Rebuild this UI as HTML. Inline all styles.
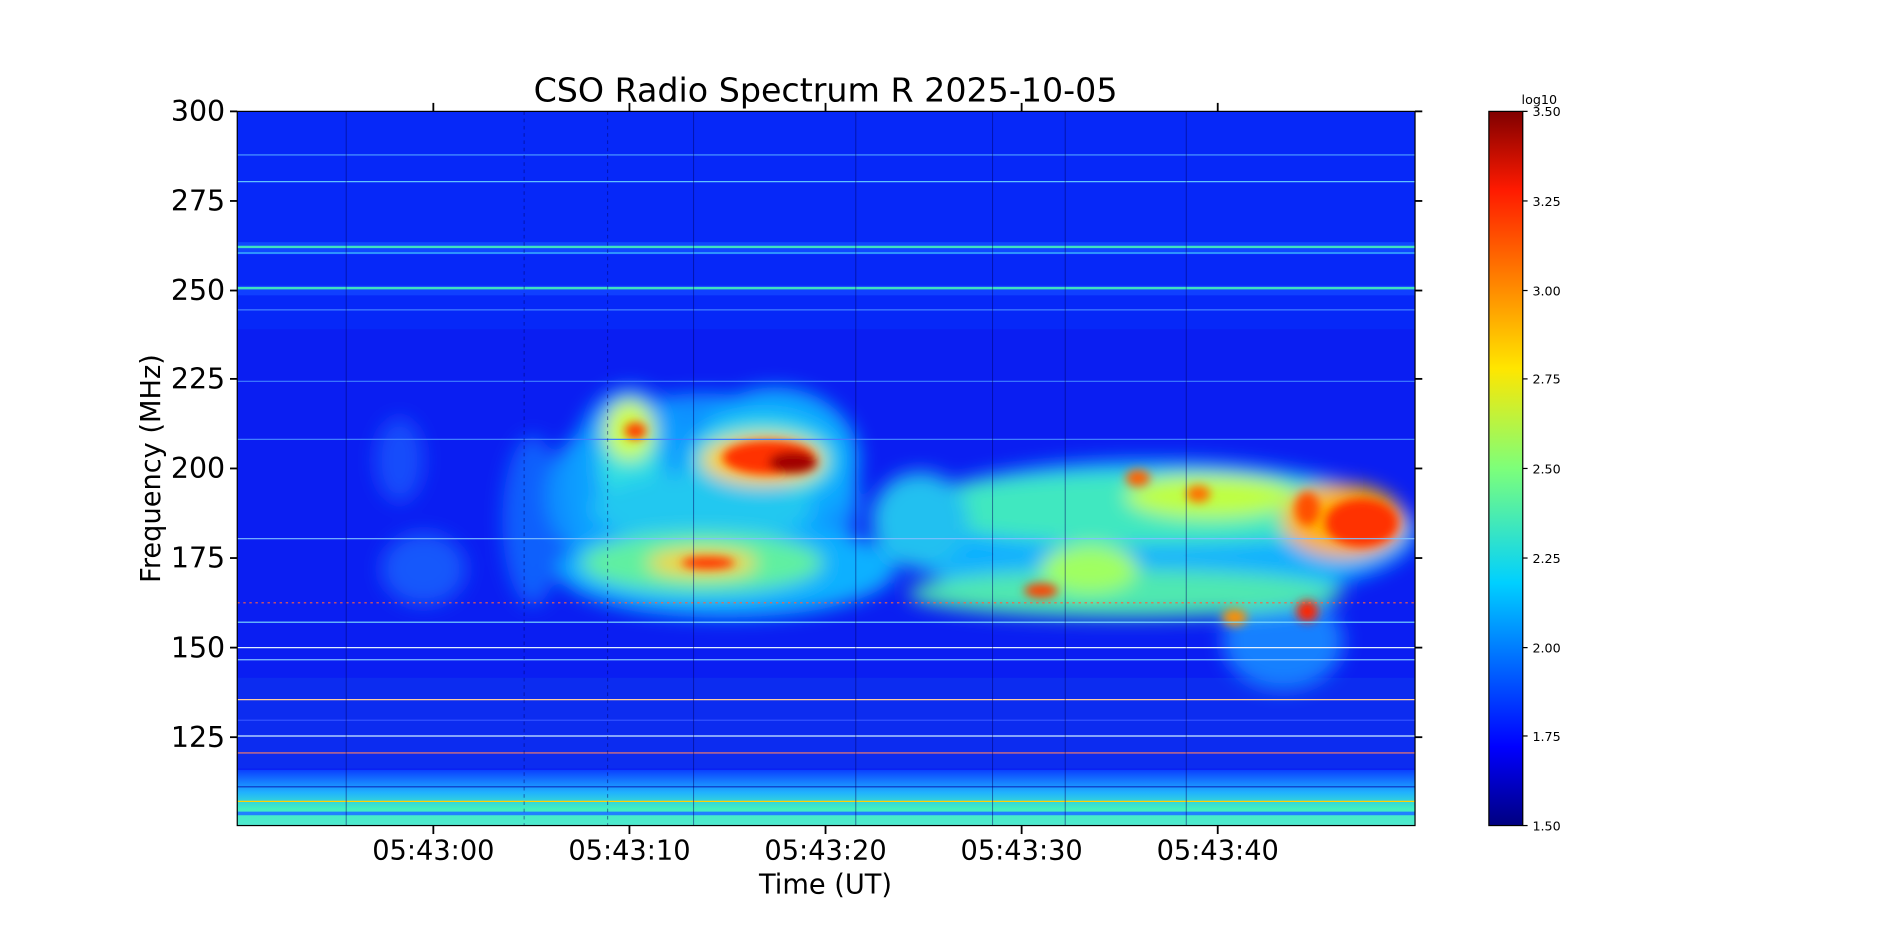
<!DOCTYPE html>
<html><head><meta charset="utf-8"><style>html,body{margin:0;padding:0;background:#fff;overflow:hidden}svg{display:block}text{font-family:"DejaVu Sans","Liberation Sans",sans-serif}</style></head>
<body>
<svg width="1898" height="927" viewBox="0 0 1568 765.8" xmlns="http://www.w3.org/2000/svg">
<defs>
<clipPath id="pc"><rect x="196" y="92" width="973" height="590"/></clipPath>
<filter id="b1" x="-50%" y="-50%" width="200%" height="200%"><feGaussianBlur stdDeviation="8"/></filter>
<filter id="b2" x="-50%" y="-50%" width="200%" height="200%"><feGaussianBlur stdDeviation="4"/></filter>
<linearGradient id="jet" x1="0" y1="1" x2="0" y2="0">
<stop offset="0" stop-color="#000080"/><stop offset="0.11" stop-color="#0000ff"/><stop offset="0.34" stop-color="#00d0ff"/><stop offset="0.5" stop-color="#7dff7a"/><stop offset="0.64" stop-color="#ffe600"/><stop offset="0.89" stop-color="#ff1a00"/><stop offset="1" stop-color="#800000"/></linearGradient>
<linearGradient id="bot" x1="0" y1="0" x2="0" y2="1"><stop offset="0" stop-color="#0a40ff"/><stop offset="0.4" stop-color="#20b0ff"/><stop offset="0.7" stop-color="#40f0c0"/><stop offset="1" stop-color="#50e8d0"/></linearGradient>
</defs>
<g clip-path="url(#pc)">
<rect x="196" y="92" width="973" height="590" fill="#0a1ef2"/>
<rect x="196" y="92" width="973" height="180" fill="#0628f8"/>
<rect x="196" y="200" width="973" height="10" fill="#1048ff"/>
<rect x="196" y="236" width="973" height="8" fill="#1040ff"/>
<rect x="196" y="560" width="973" height="75" fill="#0c2cf0"/>
<rect x="196" y="636" width="973" height="46" fill="url(#bot)"/>
<g filter="url(#b1)">
<ellipse cx="330" cy="380" rx="20" ry="35" fill="#1a60ff" opacity="0.7"/>
<ellipse cx="350" cy="470" rx="35" ry="30" fill="#1a70ff" opacity="0.7"/>
<ellipse cx="440" cy="430" rx="25" ry="70" fill="#1070ff" opacity="0.8"/>
<ellipse cx="580" cy="410" rx="130" ry="85" fill="#1090ff"/>
<ellipse cx="520" cy="400" rx="50" ry="80" fill="#10a0ff"/>
<ellipse cx="640" cy="380" rx="70" ry="60" fill="#10a8ff"/>
<ellipse cx="600" cy="470" rx="140" ry="40" fill="#10b0ff"/>
<ellipse cx="950" cy="440" rx="220" ry="60" fill="#10b0ff"/>
<ellipse cx="1060" cy="530" rx="50" ry="40" fill="#1880ff"/>
<ellipse cx="520" cy="380" rx="25" ry="50" fill="#30e0e0"/>
<ellipse cx="630" cy="380" rx="60" ry="35" fill="#30e0e0"/>
<ellipse cx="580" cy="420" rx="90" ry="30" fill="#20c8f0"/>
<ellipse cx="580" cy="465" rx="100" ry="25" fill="#60f0a0"/>
<ellipse cx="950" cy="420" rx="200" ry="30" fill="#40e8c0"/>
<ellipse cx="930" cy="490" rx="180" ry="20" fill="#50e8b0"/>
<ellipse cx="520" cy="355" rx="20" ry="25" fill="#d0ff40"/>
<ellipse cx="630" cy="380" rx="50" ry="20" fill="#ffd000"/>
<ellipse cx="1110" cy="430" rx="50" ry="30" fill="#ffb000"/>
<ellipse cx="1000" cy="410" rx="70" ry="18" fill="#c0ff40"/>
<ellipse cx="580" cy="465" rx="45" ry="10" fill="#ffd000"/>
<ellipse cx="900" cy="470" rx="40" ry="20" fill="#a0ff60"/>
<ellipse cx="760" cy="430" rx="40" ry="40" fill="#20c0f0"/>
</g>
<g filter="url(#b2)">
<ellipse cx="635" cy="378" rx="38" ry="14" fill="#ff3000"/>
<ellipse cx="655" cy="382" rx="20" ry="9" fill="#a00000"/>
<ellipse cx="1125" cy="432" rx="30" ry="20" fill="#ff3000"/>
<ellipse cx="1080" cy="505" rx="9" ry="9" fill="#ff2000"/>
<ellipse cx="860" cy="488" rx="14" ry="6" fill="#ff4000"/>
<ellipse cx="585" cy="465" rx="22" ry="5" fill="#ff3000"/>
<ellipse cx="525" cy="356" rx="9" ry="7" fill="#ff4000"/>
<ellipse cx="1080" cy="420" rx="10" ry="14" fill="#ff5000"/>
<ellipse cx="940" cy="395" rx="10" ry="7" fill="#ff6000"/>
<ellipse cx="990" cy="408" rx="10" ry="7" fill="#ff7000"/>
<ellipse cx="1020" cy="510" rx="10" ry="7" fill="#ff9000"/>
</g>
<g stroke-width="1">
<line x1="196" y1="128" x2="1169" y2="128" stroke="#50a0ff"/>
<line x1="196" y1="150" x2="1169" y2="150" stroke="#60c0ff"/>
<line x1="196" y1="204" x2="1169" y2="204" stroke="#40e0c0" stroke-width="2"/>
<line x1="196" y1="209" x2="1169" y2="209" stroke="#40c0ff"/>
<line x1="196" y1="238" x2="1169" y2="238" stroke="#40e0c0" stroke-width="2"/>
<line x1="196" y1="256" x2="1169" y2="256" stroke="#4080ff"/>
<line x1="196" y1="315" x2="1169" y2="315" stroke="#4080ff"/>
<line x1="196" y1="363" x2="1169" y2="363" stroke="#4080ff"/>
<line x1="196" y1="445" x2="1169" y2="445" stroke="#80c0ff"/>
<line x1="196" y1="498" x2="1169" y2="498" stroke="#ff6040" stroke-dasharray="2,3"/>
<line x1="196" y1="514" x2="1169" y2="514" stroke="#80e0ff"/>
<line x1="196" y1="535" x2="1169" y2="535" stroke="#e0f0ff"/>
<line x1="196" y1="545" x2="1169" y2="545" stroke="#80c0ff"/>
<line x1="196" y1="578" x2="1169" y2="578" stroke="#ffd0a0"/>
<line x1="196" y1="595" x2="1169" y2="595" stroke="#3050ff"/>
<line x1="196" y1="608" x2="1169" y2="608" stroke="#d0f0ff"/>
<line x1="196" y1="622" x2="1169" y2="622" stroke="#ff8060"/>
<line x1="196" y1="650" x2="1169" y2="650" stroke="#0a30c0"/>
<line x1="196" y1="662" x2="1169" y2="662" stroke="#ffd000"/>
<line x1="196" y1="672" x2="1169" y2="672" stroke="#2080ff" stroke-width="3"/>
</g>
<g stroke="#000060" stroke-width="0.8" opacity="0.5">
<line x1="286" y1="92" x2="286" y2="682"/><line x1="433" y1="92" x2="433" y2="682" stroke-dasharray="3,3"/>
<line x1="502" y1="92" x2="502" y2="682" stroke-dasharray="3,3"/><line x1="573" y1="92" x2="573" y2="682"/>
<line x1="707" y1="92" x2="707" y2="682"/><line x1="820" y1="92" x2="820" y2="682"/>
<line x1="880" y1="92" x2="880" y2="682"/><line x1="980" y1="92" x2="980" y2="682"/>
</g>
</g>
<rect x="196" y="92" width="973" height="590" fill="none" stroke="#000" stroke-width="1"/>
<g stroke="#000" stroke-width="1.5">
<line x1="190" y1="92" x2="196" y2="92"/><line x1="190" y1="166" x2="196" y2="166"/><line x1="190" y1="240" x2="196" y2="240"/><line x1="190" y1="313" x2="196" y2="313"/><line x1="190" y1="387" x2="196" y2="387"/><line x1="190" y1="461" x2="196" y2="461"/><line x1="190" y1="535" x2="196" y2="535"/><line x1="190" y1="609" x2="196" y2="609"/>
<line x1="1169" y1="92" x2="1175" y2="92"/><line x1="1169" y1="166" x2="1175" y2="166"/><line x1="1169" y1="240" x2="1175" y2="240"/><line x1="1169" y1="313" x2="1175" y2="313"/><line x1="1169" y1="387" x2="1175" y2="387"/><line x1="1169" y1="461" x2="1175" y2="461"/><line x1="1169" y1="535" x2="1175" y2="535"/><line x1="1169" y1="609" x2="1175" y2="609"/>
<line x1="358" y1="682" x2="358" y2="689"/><line x1="520" y1="682" x2="520" y2="689"/><line x1="682" y1="682" x2="682" y2="689"/><line x1="844" y1="682" x2="844" y2="689"/><line x1="1006" y1="682" x2="1006" y2="689"/>
<line x1="358" y1="92" x2="358" y2="85"/><line x1="520" y1="92" x2="520" y2="85"/><line x1="682" y1="92" x2="682" y2="85"/><line x1="844" y1="92" x2="844" y2="85"/><line x1="1006" y1="92" x2="1006" y2="85"/>
</g>
<g font-size="23.5" text-anchor="end" fill="#000">
<text x="186" y="100">300</text><text x="186" y="174">275</text><text x="186" y="248">250</text><text x="186" y="321">225</text><text x="186" y="395">200</text><text x="186" y="469">175</text><text x="186" y="543">150</text><text x="186" y="617">125</text>
</g>
<g font-size="22.5" text-anchor="middle" fill="#000">
<text x="358" y="710">05:43:00</text><text x="520" y="710">05:43:10</text><text x="682" y="710">05:43:20</text><text x="844" y="710">05:43:30</text><text x="1006" y="710">05:43:40</text>
<text x="682" y="738">Time (UT)</text>
<text x="682" y="84" font-size="27.5">CSO Radio Spectrum R 2025-10-05</text>
<text transform="translate(132,387) rotate(-90)">Frequency (MHz)</text>
</g>
<rect x="1230" y="92" width="28" height="590" fill="url(#jet)" stroke="#000" stroke-width="1"/>
<g font-size="10.5" fill="#000">
<text x="1257" y="86">log10</text>
<text x="1266" y="96">3.50</text><text x="1266" y="170">3.25</text><text x="1266" y="244">3.00</text><text x="1266" y="317">2.75</text><text x="1266" y="391">2.50</text><text x="1266" y="465">2.25</text><text x="1266" y="539">2.00</text><text x="1266" y="612">1.75</text><text x="1266" y="686">1.50</text>
</g>
<g stroke="#000"><line x1="1258" y1="92" x2="1262" y2="92"/><line x1="1258" y1="166" x2="1262" y2="166"/><line x1="1258" y1="240" x2="1262" y2="240"/><line x1="1258" y1="313" x2="1262" y2="313"/><line x1="1258" y1="387" x2="1262" y2="387"/><line x1="1258" y1="461" x2="1262" y2="461"/><line x1="1258" y1="535" x2="1262" y2="535"/><line x1="1258" y1="608" x2="1262" y2="608"/><line x1="1258" y1="682" x2="1262" y2="682"/></g>
</svg>
</body></html>
